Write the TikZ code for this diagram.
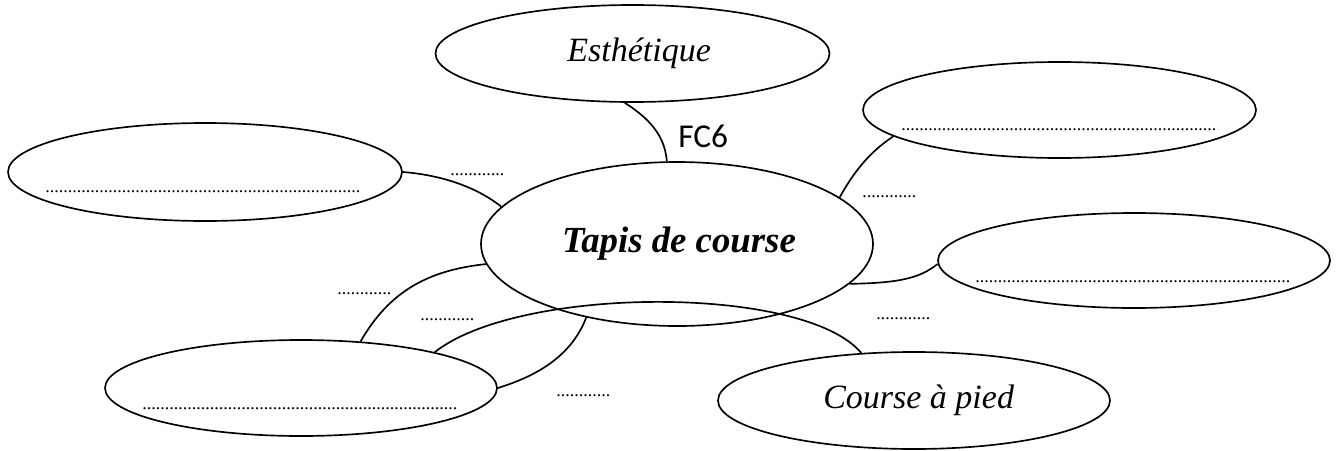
\documentclass[tikz,border=0pt]{standalone}
\usepackage{fontspec}
\setmainfont{Liberation Serif}
\newfontfamily\calib{Carlito}
\usetikzlibrary{shapes.geometric}
\begin{document}
\begin{tikzpicture}[x=0.75pt,y=-0.75pt,
  bubble/.style={draw,ellipse,line width=1.25pt,inner sep=0pt},
  link/.style={line width=1.25pt},
  dots/.style={inner sep=0pt,anchor=base west,font=\fontsize{13.5}{16}\selectfont},
  ital/.style={font=\fontsize{25.5}{30}\selectfont\itshape}]
\useasboundingbox (0,0) rectangle (1339,450);
% ellipses
\node[bubble,minimum width=295.5pt,minimum height=72.75pt,ital] (esth) at (632.5,53.5) {\hspace{10pt}Esthétique};
\node[bubble,minimum width=294pt,minimum height=123pt,font=\fontsize{27.6}{32}\selectfont\bfseries\itshape] (tapis) at (677,244) {\hspace{3pt}Tapis de course};
\node[bubble,minimum width=295.5pt,minimum height=73.5pt] (tl) at (205,172) {};
\node[bubble,minimum width=294.75pt,minimum height=72pt] (tr) at (1059.5,110) {};
\node[bubble,minimum width=294pt,minimum height=71.25pt] (rt) at (1134,260.5) {};
\node[bubble,minimum width=294pt,minimum height=72pt] (bl) at (301,388) {};
\node[bubble,minimum width=294pt,minimum height=72.75pt,ital] (cap) at (914,400.5) {\hspace{7pt}Course à pied};
% dotted fill-in lines inside the empty ellipses
\node[dots] (tld) at (45,192) {......................................................................};
\node[dots] (trd) at (901,130) {......................................................................};
\node[dots] (rtd) at (975,282) {......................................................................};
\node[dots] (bld) at (142,409) {......................................................................};
% connectors
\draw[link] (esth.261) .. controls (655,122) and (665,140) .. (tapis.97.6);
\draw[link] (tl.0) .. controls (440,175) and (475,186) .. (tapis.168.5);
\draw[link] (tapis.16.3) .. controls (855,170) and (870,152) .. (tr.189.3);
\draw[link] (tapis.-13) .. controls (900,283) and (920,278) .. (rt.181.3);
\draw[link] (tapis.-174.6) .. controls (430,270) and (390,290) .. (bl.38);
\draw[link] (bl.15.7) .. controls (520,285) and (805,285) .. (cap.138);
\draw[link] (tapis.-141.5) .. controls (570,360) and (530,378) .. (bl.0.6);
% connector labels
\node[inner sep=0pt,anchor=base west,font=\calib\fontsize{25}{30}\selectfont] (fc6) at (678,147) {FC6};
\node[dots] (l1) at (450,175) {............};
\node[dots] (l2) at (862,197) {............};
\node[dots] (l3) at (876,319) {............};
\node[dots] (l4) at (337,294) {............};
\node[dots] (l5) at (420,320) {............};
\node[dots] (l6) at (556,396) {............};
\end{tikzpicture}
\end{document}
